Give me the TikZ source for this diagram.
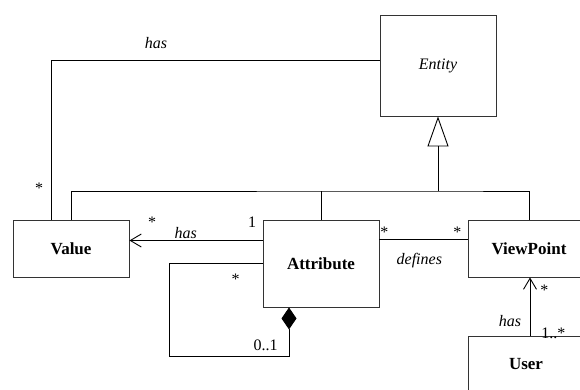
\documentclass[tikz,border=0pt]{standalone}
\usepackage{fontspec}
\setmainfont{Liberation Serif}
\usetikzlibrary{arrows.meta}
\begin{document}
\begin{tikzpicture}[x=1pt,y=-1pt,
  line width=0.9pt,
  classbox/.style={draw=black!80, line width=0.9pt, rectangle, inner sep=0pt,
    font=\fontsize{17}{20}\selectfont\bfseries},
  lbl/.style={inner sep=0pt, font=\fontsize{16}{18}\selectfont},
  rolename/.style={lbl, font=\fontsize{16}{18}\selectfont\itshape},
  gen/.style={-{Triangle[open,length=30pt,width=21pt]}},
  nav/.style={-{Straight Barb[length=11pt,width=13pt]}},
  comp/.style={-{Diamond[length=22pt,width=15pt]}}]
\useasboundingbox (0,0) rectangle (580,390);
\clip (0,0) rectangle (580,390);

% classes
\node[classbox, minimum width=116pt, minimum height=101pt,
  font=\fontsize{16}{18}\selectfont\itshape] (Entity) at (438,65.5) {Entity};
\node[classbox, minimum width=116pt, minimum height=57pt] (Value) at (71,248.5) {Value};
\node[classbox, minimum width=116pt, minimum height=87pt] (Attribute) at (321,263.5) {Attribute};
\node[classbox, minimum width=122pt, minimum height=57pt] (ViewPoint) at (529,248.5) {ViewPoint};
\node[classbox, minimum width=116pt, minimum height=55pt] (User) at (526,364) {User};

% generalization to Entity
\coordinate (bus) at (438,191);
\draw[gen] (bus) -- (Entity.south);
\draw (Value.north) |- (bus) -| (ViewPoint.north);
\draw (Attribute.north) -- (Attribute.north |- bus);

% Entity has Value
\coordinate (e1) at ([yshift=5.5pt]Entity.west);
\coordinate (v1) at ([xshift=-20pt]Value.north);
\draw (e1) -| (v1);
\node[rolename] (hasEV) at (156,43) {has};
\node[lbl] (mEV) at (39,188) {*};

% Attribute has Value
\coordinate (a1) at ([yshift=23pt]Attribute.west);
\draw[nav] (a1) -- (a1 -| Value.east);
\node[rolename] (hasAV) at (185.7,233) {has};
\node[lbl] (mAV1) at (152,222) {*};
\node[lbl] (mAV2) at (252,222.7) {1};

% Attribute composition (self)
\coordinate (c1) at (169,263.5);
\coordinate (c2) at (169,356);
\coordinate (c4) at ([xshift=-32pt]Attribute.south);
\coordinate (c3) at (c4 |- c2);
\draw[comp] (Attribute.west) -- (c1) -- (c2) -- (c3) -- (c4);
\node[lbl] (mC1) at (235.7,279) {*};
\node[lbl] (mC2) at (265.7,345.7) {0..1};

% Attribute defines ViewPoint
\coordinate (d1) at ([yshift=24pt]Attribute.east);
\draw (d1) -- (d1 -| ViewPoint.west);
\node[rolename] (defines) at (419.3,261) {defines};
\node[lbl] (mD1) at (384.3,232) {*};
\node[lbl] (mD2) at (457.3,232) {*};

% User has ViewPoint
\coordinate (u1) at ([xshift=4pt]User.north);
\draw[nav] (u1) -- (u1 |- ViewPoint.south);
\node[rolename] (hasUV) at (510,321) {has};
\node[lbl] (mU1) at (544.3,290) {*};
\node[lbl] (mU2) at (553.3,333) {1..*};
\end{tikzpicture}
\end{document}
